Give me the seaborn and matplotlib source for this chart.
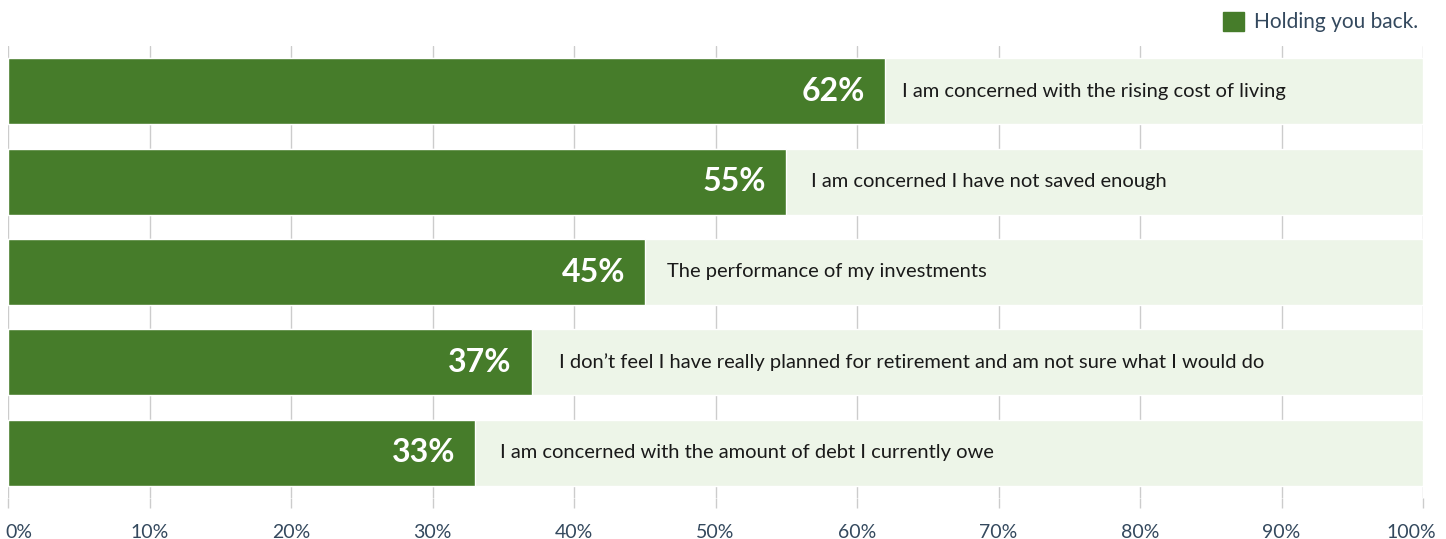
import pandas as pd
import seaborn as sns
import matplotlib.pyplot as plt
import matplotlib.transforms as mtransforms
from matplotlib.patches import Patch

# Data
statements = [
    'I am concerned with the rising cost of living',
    'I am concerned I have not saved enough',
    'The performance of my investments',
    'I don\u2019t feel I have really planned for retirement and am not sure what I would do',
    'I am concerned with the amount of debt I currently owe',
]
holding_back = [62, 55, 45, 37, 33]
ticks = [0, 10, 20, 30, 40, 50, 60, 70, 80, 90, 100]

df = pd.DataFrame({'statement': statements, 'value': holding_back, 'full': [100] * len(statements)})

dark_green = '#467c2a'
light_green = '#edf5e8'
tick_color = '#34495e'

sns.set_theme(style='white')
plt.rcParams['font.family'] = ['Lato', 'DejaVu Sans']

fig = plt.figure(figsize=(14.46, 5.39), dpi=100)
ax = fig.add_axes([8 / 1446, 1 - 498 / 539, 1415 / 1446, 452 / 539])

# background bars up to 100%, then the actual values on top
sns.barplot(data=df, x='full', y='statement', color=light_green, width=0.73,
            orient='h', ax=ax, saturation=1, zorder=2)
sns.barplot(data=df, x='value', y='statement', color=dark_green, width=0.73,
            orient='h', ax=ax, saturation=1, zorder=3)

# gap between bar end and statement text (first row sits a bit closer)
gaps = [1.2, 1.75, 1.6, 1.95, 1.8]
for i, (s, v) in enumerate(zip(statements, holding_back)):
    ax.text(v - 1.4, i, f'{v}%', color='white', fontsize=23, fontweight='bold',
            ha='right', va='center', zorder=4)
    ax.text(v + gaps[i], i, s, color='#1a1a1a', fontsize=14.5, ha='left', va='center', zorder=4)

ax.set_xlim(0, 100)
ax.set_ylim(4.5, -0.5)
ax.set_xticks(ticks)
ax.set_xticklabels([f'{t}%' for t in ticks], color=tick_color, fontsize=14)
ax.set_yticks([])
ax.set_xlabel('')
ax.set_ylabel('')
ax.grid(axis='x', color='#cccccc', linewidth=1, zorder=1)
ax.set_axisbelow(True)
for sp in ax.spines.values():
    sp.set_visible(False)
ax.tick_params(axis='x', length=7, color='#cccccc', width=1, pad=12, bottom=True)

# keep the end labels inside the canvas
labels = ax.get_xticklabels()
labels[0].set_horizontalalignment('left')
labels[0].set_transform(labels[0].get_transform() + mtransforms.ScaledTranslation(-3 / 100, 0, fig.dpi_scale_trans))
labels[-1].set_transform(labels[-1].get_transform() + mtransforms.ScaledTranslation(-12 / 100, 0, fig.dpi_scale_trans))

fig.legend(handles=[Patch(color=dark_green, label='Holding you back.')],
           loc='upper right', bbox_to_anchor=(1433 / 1446, 1.005), frameon=False,
           fontsize=15, handlelength=1.0, handleheight=1.0, handletextpad=0.5,
           labelcolor=tick_color, borderaxespad=0.3)

fig.savefig('out.png', dpi=100)
